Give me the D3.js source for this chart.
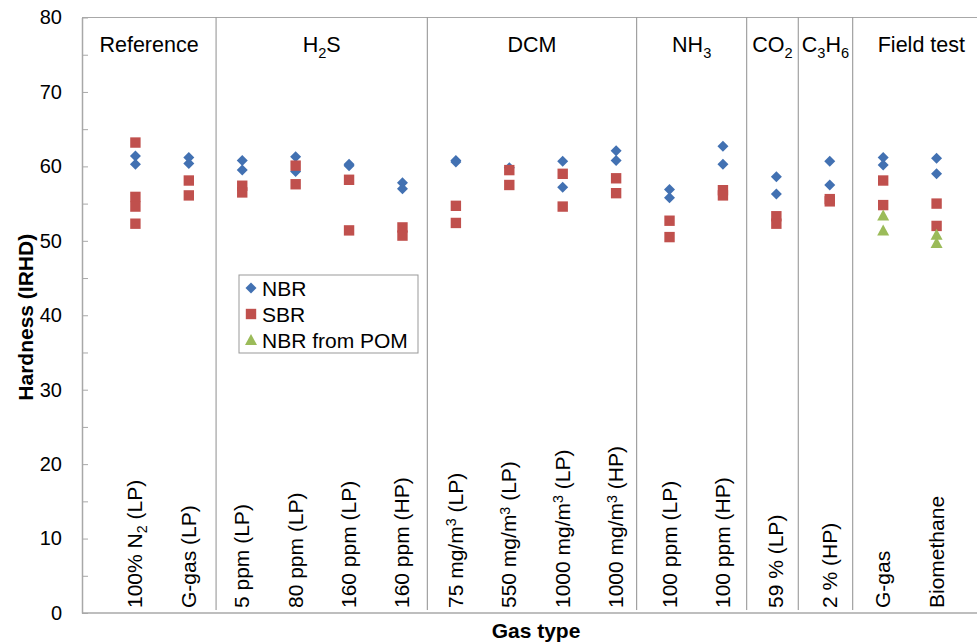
<!DOCTYPE html>
<style>
body { margin: 0; background: #fff; }
svg { font-family: "Liberation Sans", Arial, sans-serif; }
</style>
<svg width="977" height="644"></svg>
<script src="https://d3js.org/d3.v7.min.js"></script>
<script>

// category labels: "_x" = subscript char, "^x" = superscript char
var categories = ["100% N_2 (LP)", "G-gas (LP)", "5 ppm (LP)", "80 ppm (LP)", "160 ppm (LP)", "160 ppm (HP)",
  "75 mg/m^3 (LP)", "550 mg/m^3 (LP)", "1000 mg/m^3 (LP)", "1000 mg/m^3 (HP)",
  "100 ppm (LP)", "100 ppm (HP)", "59 % (LP)", "2 % (HP)", "G-gas", "Biomethane"];

var groups = ["Reference", "H_2S", "DCM", "NH_3", "CO_2", "C_3H_6", "Field test"];
// group boundaries, in category units (category i sits at i)
var groupEdges = [0, 2.51, 6.465, 10.385, 12.445, 13.41, 14.43, 17];

var nbr = [[61.4, 60.3], [61.2, 60.4], [60.8, 59.5], [61.3, 59.3], [60.3, 60.1], [57.8, 57.0],
  [60.8, 60.6], [59.8], [60.7, 57.2], [62.1, 60.8], [56.9, 55.8], [62.7, 60.3],
  [58.6, 56.3], [60.7, 57.5], [61.2, 60.2], [61.1, 59.0]];
var sbr = [[63.2, 55.9, 54.6, 52.3], [58.1, 56.1], [57.4, 56.5], [60.1, 57.6], [58.2, 51.4], [51.8, 50.7],
  [54.7, 52.4], [59.5, 57.5], [59.0, 54.6], [58.4, 56.4], [52.7, 50.5], [56.8, 56.1],
  [53.3, 52.3], [55.6, 55.3], [58.1, 54.8], [55.0, 52.0]];
var pom = [[], [], [], [], [], [], [], [], [], [], [], [], [], [], [53.4, 51.4], [50.8, 49.7]];

var seriesNames = ["NBR", "SBR", "NBR from POM"];
var yTicks = d3.range(0, 81, 5);

var svg = d3.select("svg");

var x = d3.scaleLinear().domain([0, 17]).range([82, 990]);
var y = d3.scaleLinear().domain([0, 80]).range([613, 17.5]);

var colors = ["#4271b2", "#c0504d", "#9bbb59"];
var shapes = [
  "M0,-5.5L5.5,0L0,5.5L-5.5,0Z",
  "M-5.2,-5.2H5.2V5.2H-5.2Z",
  "M0,-6L6,5H-6Z"
];

// text with sub/superscripts
function rich(text, str, shift) {
  var off = 0;
  str.split(/([_^].)/).forEach(function(p) {
    if (!p) return;
    var t = text.append("tspan"), want = 0;
    if (p[0] === "_") { want = shift; p = p.slice(1); t.attr("font-size", "68%"); }
    else if (p[0] === "^") { want = -shift * 1.3; p = p.slice(1); t.attr("font-size", "68%"); }
    t.attr("dy", want - off).text(p);
    off = want;
  });
}

// top border + bottom axis line
svg.append("line")
    .attr("x1", x(0)).attr("x2", 977)
    .attr("y1", y(80)).attr("y2", y(80))
    .attr("stroke", "#a8a8a8");
svg.append("line")
    .attr("x1", x(0)).attr("x2", 977)
    .attr("y1", y(0)).attr("y2", y(0))
    .attr("stroke", "#a8a8a8").attr("stroke-width", 1.5);

// group separators
svg.append("g").selectAll("line")
  .data(groupEdges.slice(1, -1))
  .enter().append("line")
    .attr("x1", function(d) { return x(d); })
    .attr("x2", function(d) { return x(d); })
    .attr("y1", y(80)).attr("y2", y(0.4))
    .attr("stroke", "#8e8e8e");

// y axis
var yAxis = svg.append("g")
    .attr("transform", "translate(" + x(0) + ",0)")
    .call(d3.axisLeft(y).tickValues(yTicks).tickSizeInner(-6).tickSizeOuter(0).tickPadding(20)
      .tickFormat(function(d) { return d % 10 ? "" : d; }));
yAxis.select(".domain").attr("stroke", "#a8a8a8").attr("stroke-width", 1.5);
yAxis.selectAll(".tick line").attr("stroke", "#a8a8a8");
yAxis.selectAll(".tick text").attr("font-size", 20).attr("fill", "#000")
    .attr("font-family", "'Liberation Sans', Arial, sans-serif");

// group headers
groups.forEach(function(gname, i) {
  var t = svg.append("text")
      .attr("x", x((groupEdges[i] + groupEdges[i + 1]) / 2))
      .attr("y", 52)
      .attr("text-anchor", "middle")
      .attr("font-size", 21.5);
  rich(t, gname, 6);
});

// category labels (rotated)
categories.forEach(function(c, i) {
  var t = svg.append("text")
      .attr("transform", "translate(" + (x(i + 1) + 7) + ",608) rotate(-90)")
      .attr("font-size", 21);
  rich(t, c, 5);
});

// points
[nbr, sbr, pom].forEach(function(series, s) {
  var pts = [];
  series.forEach(function(vals, i) {
    vals.forEach(function(v) { pts.push([i + 1, v]); });
  });
  svg.append("g").selectAll("path")
    .data(pts)
    .enter().append("path")
      .attr("transform", function(d) { return "translate(" + x(d[0]) + "," + y(d[1]) + ")"; })
      .attr("d", shapes[s])
      .attr("fill", colors[s]);
});

// axis titles
svg.append("text")
    .attr("transform", "translate(33," + (y(40) + 2) + ") rotate(-90)")
    .attr("text-anchor", "middle")
    .attr("font-size", 21)
    .attr("font-weight", "bold")
    .text("Hardness (IRHD)");
svg.append("text")
    .attr("x", x(8.5)).attr("y", 638)
    .attr("text-anchor", "middle")
    .attr("font-size", 21)
    .attr("font-weight", "bold")
    .text("Gas type");

// legend
var legend = svg.append("g").attr("transform", "translate(239,275)");
legend.append("rect")
    .attr("width", 179).attr("height", 78)
    .attr("fill", "#fff").attr("stroke", "#999");
var item = legend.selectAll("g.item")
  .data(seriesNames)
  .enter().append("g")
    .attr("transform", function(d, i) { return "translate(12," + (13 + i * 26) + ")"; });
item.append("path")
    .attr("d", function(d, i) { return shapes[i]; })
    .attr("fill", function(d, i) { return colors[i]; });
item.append("text")
    .attr("x", 11).attr("dy", "0.36em")
    .attr("font-size", 21)
    .text(function(d) { return d; });

</script>
